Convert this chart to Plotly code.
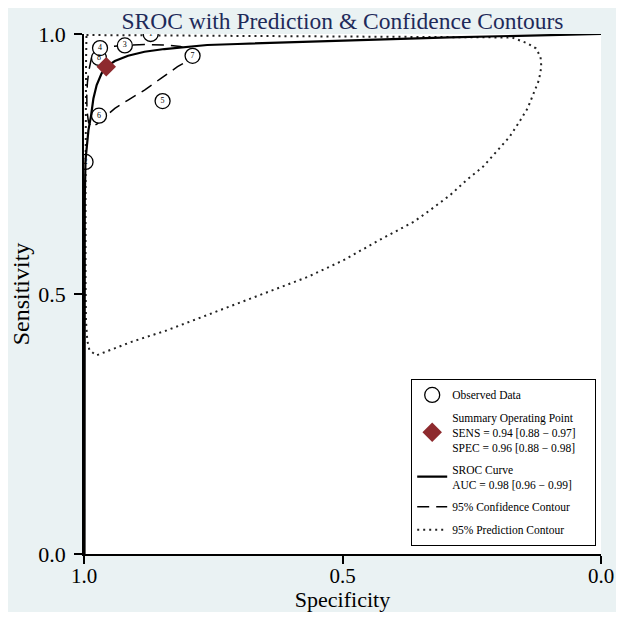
import plotly.graph_objects as go

title_text = "SROC with Prediction & Confidence Contours"

# observed studies: specificity / sensitivity
study_ids = ["2", "8", "6", "5", "7", "3", "4", "1"]
study_spec = [0.997, 0.971, 0.971, 0.848, 0.790, 0.921, 0.969, 0.871]
study_sens = [0.754, 0.954, 0.843, 0.871, 0.958, 0.978, 0.973, 1.000]

summary_spec = [0.957]
summary_sens = [0.937]

# SROC curve
sroc_spec = [0.999, 0.999, 0.9985, 0.9971, 0.9952, 0.9914, 0.9862, 0.9818, 0.9755,
             0.9659, 0.9564, 0.9403, 0.9148, 0.8829, 0.8446, 0.8000, 0.7617,
             0.7032, 0.4982, 0.2930, 0.0]
sroc_sens = [0.0, 0.488, 0.6805, 0.7575, 0.7831, 0.8152, 0.8441, 0.8762, 0.9018,
             0.9243, 0.9371, 0.9480, 0.9582, 0.9659, 0.9711, 0.9756, 0.9788,
             0.9808, 0.9871, 0.9936, 1.0]

# 95% confidence contour
conf_spec = [0.978, 0.9493, 0.9206, 0.8823, 0.8440, 0.8134, 0.7962, 0.7904, 0.8000,
             0.8191, 0.8511, 0.8829, 0.9148, 0.9403, 0.9594, 0.9751, 0.9856,
             0.9914, 0.9943, 0.9946, 0.9933, 0.9904, 0.9856, 0.978]
conf_sens = [0.9692, 0.9759, 0.9779, 0.9798, 0.9788, 0.9759, 0.9692, 0.9596, 0.9480,
             0.9371, 0.9147, 0.8922, 0.8730, 0.8570, 0.8408, 0.8268, 0.8210,
             0.8306, 0.8537, 0.8826, 0.9076, 0.9307, 0.9538, 0.9692]

# 95% prediction contour
pred_spec = [0.9952, 0.777, 0.490, 0.279, 0.172, 0.142, 0.126, 0.117, 0.1154, 0.120,
             0.130, 0.142, 0.158, 0.177, 0.203, 0.228, 0.260, 0.292, 0.331, 0.362,
             0.430, 0.498, 0.567, 0.635, 0.703, 0.771, 0.840, 0.908, 0.949, 0.976,
             0.9895, 0.9937, 0.9962, 0.997, 0.997, 0.997, 0.996, 0.9952]
pred_sens = [0.998, 0.997, 0.9962, 0.9952, 0.9933, 0.982, 0.9725, 0.9563, 0.937, 0.9115,
             0.886, 0.857, 0.831, 0.802, 0.773, 0.745, 0.719, 0.690, 0.661, 0.639,
             0.603, 0.565, 0.533, 0.507, 0.482, 0.456, 0.430, 0.408, 0.392, 0.382,
             0.392, 0.411, 0.449, 0.526, 0.68, 0.834, 0.95, 0.998]

pad = "\u00a0" * 5
legend_names = [
    "Observed Data",
    "Summary Operating Point<br>SENS = 0.94 [0.88 \u2212 0.97]<br>SPEC = 0.96 [0.88 \u2212 0.98]" + pad,
    "SROC Curve<br>AUC = 0.98 [0.96 \u2212 0.99]",
    "95% Confidence Contour",
    "95% Prediction Contour",
]

serif = "Liberation Serif, Times New Roman, serif"
maroon = "#8E2A2E"

fig = go.Figure()

fig.add_trace(go.Scatter(x=pred_spec, y=pred_sens, mode="lines", name=legend_names[4],
                         line=dict(color="#222222", width=2, dash="2px,4px"),
                         legendrank=5, legendgroup="e"))
fig.add_trace(go.Scatter(x=conf_spec, y=conf_sens, mode="lines", name=legend_names[3],
                         line=dict(color="black", width=1.5, dash="12px,7px"),
                         legendrank=4, legendgroup="d"))
fig.add_trace(go.Scatter(x=study_spec, y=study_sens, mode="markers+text", name=legend_names[0],
                         text=study_ids, textposition="middle center",
                         textfont=dict(family=serif, size=8, color="black"),
                         marker=dict(symbol="circle", size=15, color="white",
                                     line=dict(color="black", width=1.3)),
                         legendrank=1, legendgroup="a"))
fig.add_trace(go.Scatter(x=sroc_spec, y=sroc_sens, mode="lines", name=legend_names[2],
                         line=dict(color="black", width=2.2),
                         legendrank=3, legendgroup="c"))
fig.add_trace(go.Scatter(x=summary_spec, y=summary_sens, mode="markers", name=legend_names[1],
                         marker=dict(symbol="diamond", size=15, color=maroon),
                         legendrank=2, legendgroup="b"))

# page body has an 8px margin, keep the figure inside the window (no scrollbars)
fig.update_layout(
    width=608, height=604,
    margin=dict(l=76, r=15, t=26, b=58, autoexpand=False),
    paper_bgcolor="#EAF2F3",
    plot_bgcolor="white",
    font=dict(family=serif, color="black"),
    title=dict(text=title_text, x=0.5, xref="paper", xanchor="center",
               y=0.979, yref="container", yanchor="middle",
               font=dict(family=serif, size=23.5, color="#1E2A5A")),
    showlegend=True,
    legend=dict(x=0.6325, y=0.015, xanchor="left", yanchor="bottom",
                bgcolor="white", bordercolor="black", borderwidth=1.2,
                font=dict(family=serif, size=11.5, color="black"),
                tracegroupgap=4, itemsizing="trace"),
)

fig.update_xaxes(range=[1, 0], tickvals=[1, 0.5, 0], ticktext=["1.0", "0.5", "0.0"],
                 showgrid=False, zeroline=False, showline=True, linecolor="black",
                 linewidth=1.5, ticks="outside", ticklen=8, tickwidth=1.5,
                 tickcolor="black", tickfont=dict(family=serif, size=21),
                 ticklabelstandoff=-6, automargin=False,
                 title=dict(text="Specificity", font=dict(family=serif, size=22), standoff=1))
fig.update_yaxes(range=[0, 1], tickvals=[0, 0.5, 1], ticktext=["0.0", "0.5", "1.0"],
                 showgrid=False, zeroline=False, showline=True, linecolor="black",
                 linewidth=1.5, ticks="outside", ticklen=8, tickwidth=1.5,
                 tickcolor="black", tickfont=dict(family=serif, size=22),
                 ticklabelstandoff=4, automargin=False,
                 title=dict(text="Sensitivity", font=dict(family=serif, size=24), standoff=8))

fig.write_html("out.html")
